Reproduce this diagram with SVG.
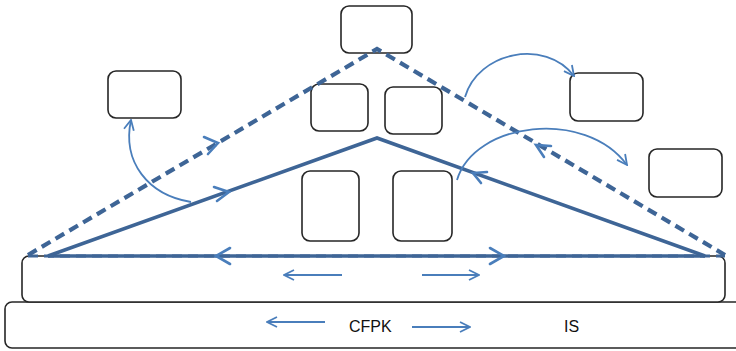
<svg xmlns="http://www.w3.org/2000/svg" width="736" height="351" viewBox="0 0 736 351">
  <defs>
    <marker id="chev" viewBox="0 0 12 12" refX="11" refY="6" markerWidth="12" markerHeight="12" markerUnits="userSpaceOnUse" orient="auto">
      <path d="M1,1 L11,6 L1,11" fill="none" stroke="#4A7EBB" stroke-width="1.8"/>
    </marker>
    <style>
      .box { fill: #ffffff; stroke: #262626; stroke-width: 1.6; }
      .tri { fill: none; stroke: #3E6596; stroke-width: 3.6; stroke-linejoin: miter; }
      .dash { stroke-dasharray: 10 6; stroke-width: 4.2; }
      .curve { fill: none; stroke: #4A7EBB; stroke-width: 1.8; marker-end: url(#chev); }
      .head { fill: none; stroke: #4A7EBB; stroke-width: 2.6; stroke-linecap: round; }
      .label { font-family: "Liberation Sans", Arial, sans-serif; font-size: 16px; fill: #111111; }
    </style>
  </defs>

  <!-- base layers -->
  <g id="layer-bottom">
    <rect class="box" x="5" y="302" width="760" height="46" rx="7"/>
    <text class="label" x="349" y="332">CFPK</text>
    <text class="label" x="564" y="332">IS</text>
  </g>
  <g id="layer-middle">
    <rect class="box" x="22" y="256" width="703" height="46" rx="7"/>
  </g>

  <!-- boxes -->
  <g id="box-top"><rect class="box" x="341" y="6" width="71" height="47" rx="8"/></g>
  <g id="box-left"><rect class="box" x="108" y="71" width="73" height="47" rx="8"/></g>
  <g id="box-right-upper"><rect class="box" x="570" y="73" width="73" height="48" rx="8"/></g>
  <g id="box-right-lower"><rect class="box" x="649" y="149" width="73" height="48" rx="8"/></g>
  <g id="box-inner-a"><rect class="box" x="311" y="84" width="57" height="47" rx="8"/></g>
  <g id="box-inner-b"><rect class="box" x="385" y="87" width="57" height="47" rx="8"/></g>
  <g id="box-core-a"><rect class="box" x="302" y="171" width="57" height="70" rx="8"/></g>
  <g id="box-core-b"><rect class="box" x="393" y="171" width="59" height="70" rx="8"/></g>

  <!-- connectors -->
  <g id="connectors">
    <!-- outer dashed triangle -->
    <polyline class="tri dash" points="28,255 377,49 725,255"/>
    <line class="tri dash" x1="28" y1="256" x2="725" y2="256" style="stroke-width:3"/>
    <!-- inner solid triangle -->
    <polyline class="tri" points="48,256 377,138 705,256"/>
    <line class="tri" x1="48" y1="256" x2="705" y2="256"/>

    <!-- direction marks on the triangle edges -->
    <path class="head" d="M204,137 L218,143 L208,154"/>
    <path class="head" d="M214,187 L229,192 L217,201"/>
    <path class="head" d="M551,146 L536,145 L544,157"/>
    <path class="head" d="M487,172 L473,173 L481,183"/>
    <!-- direction marks on the base line -->
    <path class="head" d="M230,248 L216,256 L230,264"/>
    <path class="head" d="M490,248 L504,256 L490,264"/>

    <!-- straight arrows in the layers -->
    <line class="curve" x1="342" y1="275" x2="284" y2="275"/>
    <line class="curve" x1="422" y1="275" x2="479" y2="275"/>
    <line class="curve" x1="325" y1="322" x2="267" y2="322"/>
    <line class="curve" x1="412" y1="327" x2="470" y2="327"/>

    <!-- curved arrows -->
    <path class="curve" d="M191,202 C148,195 122,162 131,120"/>
    <path class="curve" d="M465,97 C478,52 545,38 574,76"/>
    <path class="curve" d="M457,180 C474,122 585,108 627,165"/>
  </g>
</svg>
